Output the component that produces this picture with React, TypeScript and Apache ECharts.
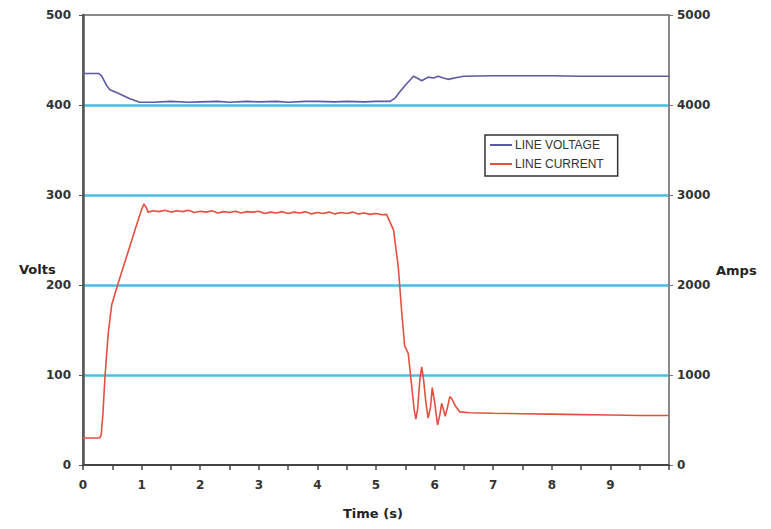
import React, { useEffect, useRef } from "react";
import * as echarts from "echarts";

// Time (s) and line voltage (V)
const voltageTime = [0, 0.27, 0.32, 0.4, 0.46, 0.6, 0.8, 0.97, 1.2, 1.5, 1.8, 2.0, 2.3, 2.5, 2.8, 3.0, 3.3, 3.5, 3.8, 4.0, 4.3, 4.5, 4.8, 5.0, 5.24, 5.33, 5.41, 5.5, 5.64, 5.7, 5.78, 5.89, 5.98, 6.06, 6.15, 6.23, 6.38, 6.5, 7.0, 7.5, 8.0, 8.5, 9.0, 9.5, 10.0];
const voltageValues = [435, 435, 432, 422, 417, 413, 407, 403, 403, 404, 403, 403.5, 404, 403, 404, 403.5, 404, 403, 404, 404, 403.5, 404, 403.5, 404, 404, 408, 415, 422, 432, 430, 427, 431, 430, 432, 430, 428.5, 430.6, 432, 432.5, 432.5, 432.5, 432, 432, 432, 432];

// Time (s) and line current (A)
const currentTime = [0, 0.28, 0.31, 0.34, 0.375, 0.43, 0.49, 0.6, 0.77, 0.9, 1.0, 1.04, 1.08, 1.11, 1.2, 1.3, 1.4, 1.5, 1.6, 1.7, 1.8, 1.9, 2.0, 2.1, 2.2, 2.3, 2.4, 2.5, 2.6, 2.7, 2.8, 2.9, 3.0, 3.1, 3.2, 3.3, 3.4, 3.5, 3.6, 3.7, 3.8, 3.9, 4.0, 4.1, 4.2, 4.3, 4.4, 4.5, 4.6, 4.7, 4.8, 4.9, 5.0, 5.1, 5.18, 5.3, 5.38, 5.44, 5.49, 5.55, 5.61, 5.65, 5.68, 5.71, 5.75, 5.78, 5.81, 5.85, 5.89, 5.93, 5.96, 6.0, 6.05, 6.09, 6.12, 6.15, 6.18, 6.22, 6.26, 6.3, 6.35, 6.43, 6.6, 7.0, 7.5, 8.0, 8.5, 9.0, 9.5, 10.0];
const currentValues = [300, 300, 330, 570, 980, 1460, 1780, 2020, 2370, 2640, 2840, 2900, 2860, 2810, 2825, 2815, 2830, 2810, 2825, 2815, 2830, 2805, 2820, 2810, 2825, 2800, 2815, 2805, 2820, 2800, 2815, 2810, 2820, 2795, 2810, 2800, 2815, 2795, 2810, 2800, 2815, 2790, 2805, 2795, 2810, 2790, 2805, 2795, 2810, 2790, 2800, 2785, 2795, 2780, 2785, 2610, 2200, 1690, 1320, 1240, 870, 620, 510, 620, 960, 1090, 960, 700, 520, 640, 860, 700, 445, 560, 685, 620, 540, 640, 760, 730, 660, 590, 580, 575, 570, 565, 560, 555, 550, 550];

const seriesNames = ["LINE VOLTAGE", "LINE CURRENT"];

const App: React.FC = () => {
  const ref = useRef<HTMLDivElement>(null);

  useEffect(() => {
    if (!ref.current) return;
    const chart = echarts.init(ref.current, undefined, { renderer: "svg" });
    const tickFont = {
      fontFamily: "DejaVu Sans",
      fontWeight: "bold" as const,
      fontSize: 12,
      color: "#333",
    };
    chart.setOption({
      animation: false,
      backgroundColor: "#fff",
      grid: {
        left: 83,
        right: 102,
        top: 15,
        bottom: 64,
        show: true,
        borderColor: "#888",
        borderWidth: 2,
        backgroundColor: "transparent",
      },
      legend: {
        data: seriesNames,
        left: 485,
        top: 135,
        orient: "vertical",
        icon: "rect",
        itemWidth: 22,
        itemHeight: 2,
        itemGap: 7,
        padding: [4, 14, 6, 5],
        borderColor: "#333",
        borderWidth: 1.5,
        backgroundColor: "#fff",
        textStyle: {
          fontFamily: "Liberation Sans",
          fontSize: 12,
          color: "#333",
          padding: [0, 0, 0, -2],
        },
      },
      xAxis: {
        type: "value",
        min: 0,
        max: 10,
        interval: 0.5,
        axisLine: { show: true, lineStyle: { color: "#444", width: 2 } },
        axisTick: { show: true, length: 5, lineStyle: { color: "#444", width: 1.5 } },
        splitLine: { show: false },
        axisLabel: {
          ...tickFont,
          margin: 14,
          formatter: (v: number) => (Number.isInteger(v) && v < 10 ? String(v) : ""),
        },
      },
      yAxis: [
        {
          type: "value",
          min: 0,
          max: 500,
          interval: 100,
          position: "left",
          axisLine: { show: true, lineStyle: { color: "#555", width: 2.5 } },
          axisTick: { show: true, length: 4, lineStyle: { color: "#555" } },
          axisLabel: { ...tickFont, margin: 12, formatter: (v: number) => String(v) },
          splitLine: {
            show: true,
            showMinLine: false,
            showMaxLine: false,
            lineStyle: { color: "#45bfe4", width: 2.5 },
          },
        },
        {
          type: "value",
          min: 0,
          max: 5000,
          interval: 1000,
          position: "right",
          axisLine: { show: true, lineStyle: { color: "#888", width: 2 } },
          axisTick: { show: true, length: 4, lineStyle: { color: "#777" } },
          axisLabel: { ...tickFont, margin: 8, formatter: (v: number) => String(v) },
          splitLine: { show: false },
        },
      ],
      graphic: [
        {
          type: "text",
          left: 19,
          top: 263,
          style: {
            text: "Volts",
            fontFamily: "DejaVu Sans",
            fontWeight: "bold",
            fontSize: 13,
            fill: "#222",
          },
        },
        {
          type: "text",
          left: 716,
          top: 264,
          style: {
            text: "Amps",
            fontFamily: "DejaVu Sans",
            fontWeight: "bold",
            fontSize: 13,
            fill: "#222",
          },
        },
        {
          type: "text",
          left: 343,
          top: 507,
          style: {
            text: "Time (s)",
            fontFamily: "DejaVu Sans",
            fontWeight: "bold",
            fontSize: 13,
            fill: "#222",
          },
        },
      ],
      series: [
        {
          name: seriesNames[0],
          type: "line",
          yAxisIndex: 0,
          symbol: "none",
          color: "#5a5aa6",
          lineStyle: { width: 1.6, color: "#5a5aa6" },
          data: voltageTime.map((t, i) => [t, voltageValues[i]]),
        },
        {
          name: seriesNames[1],
          type: "line",
          yAxisIndex: 1,
          symbol: "none",
          color: "#e4503f",
          lineStyle: { width: 1.6, color: "#e4503f" },
          data: currentTime.map((t, i) => [t, currentValues[i]]),
        },
      ],
    });
    return () => chart.dispose();
  }, []);

  return <div ref={ref} style={{ width: 771, height: 529, position: "absolute", left: 0, top: 0 }} />;
};

export default App;
